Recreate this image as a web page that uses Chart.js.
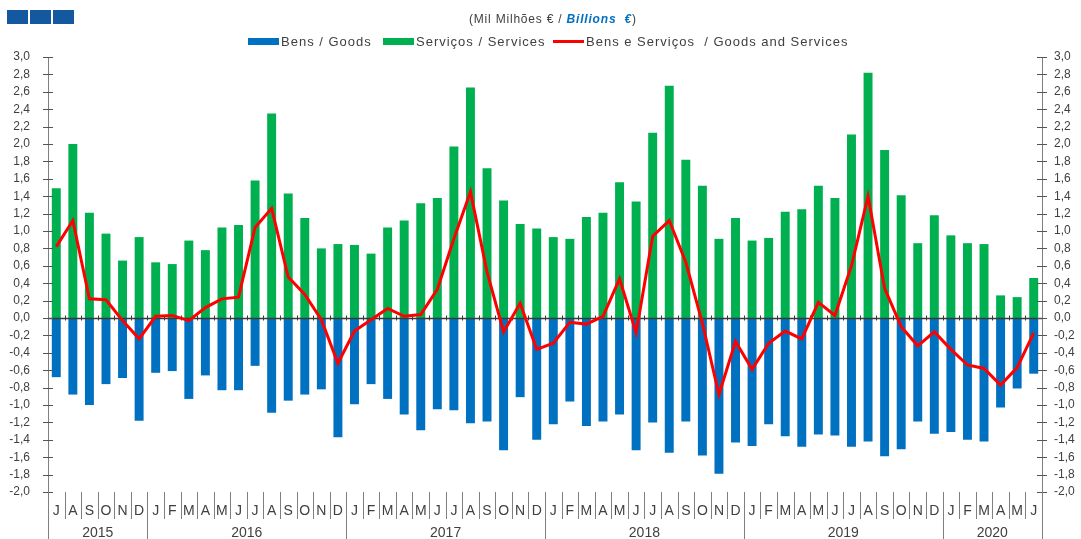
<!DOCTYPE html>
<html>
<head>
<meta charset="utf-8">
<script src="https://cdn.jsdelivr.net/npm/chart.js@4.4.1/dist/chart.umd.min.js"></script>
<style>
    html, body { margin: 0; padding: 0; background: #fff; }
    #wrap { position: relative; width: 1081px; height: 539px; }
</style>
</head>
<body>
<div id="wrap"><canvas id="balanceChart" width="1081" height="539"></canvas></div>
<script>
/* ================= DATA ================= */
const months = [
    "J", "A", "S", "O", "N", "D",
    "J", "F", "M", "A", "M", "J", "J", "A", "S", "O", "N", "D",
    "J", "F", "M", "A", "M", "J", "J", "A", "S", "O", "N", "D",
    "J", "F", "M", "A", "M", "J", "J", "A", "S", "O", "N", "D",
    "J", "F", "M", "A", "M", "J", "J", "A", "S", "O", "N", "D",
    "J", "F", "M", "A", "M", "J"
];
const years = ["2015", "2016", "2017", "2018", "2019", "2020"];
const monthsPerYear = [6, 12, 12, 12, 12, 6];

const goods = [
    -0.68, -0.88, -1.00, -0.76, -0.69, -1.18,
    -0.63, -0.61, -0.93, -0.66, -0.83, -0.83, -0.55, -1.09, -0.95, -0.88, -0.82, -1.37,
    -0.99, -0.76, -0.93, -1.11, -1.29, -1.05, -1.06, -1.21, -1.19, -1.52, -0.91, -1.40,
    -1.22, -0.96, -1.24, -1.19, -1.11, -1.52, -1.20, -1.55, -1.19, -1.58, -1.79, -1.43,
    -1.47, -1.22, -1.36, -1.48, -1.34, -1.35, -1.48, -1.42, -1.59, -1.51, -1.19, -1.33,
    -1.31, -1.40, -1.42, -1.03, -0.81, -0.64
];
const services = [
    1.49, 2.00, 1.21, 0.97, 0.66, 0.93,
    0.64, 0.62, 0.89, 0.78, 1.04, 1.07, 1.58, 2.35, 1.43, 1.15, 0.80, 0.85,
    0.84, 0.74, 1.04, 1.12, 1.32, 1.38, 1.97, 2.65, 1.72, 1.35, 1.08, 1.03,
    0.93, 0.91, 1.16, 1.21, 1.56, 1.34, 2.13, 2.67, 1.82, 1.52, 0.91, 1.15,
    0.89, 0.92, 1.22, 1.25, 1.52, 1.38, 2.11, 2.82, 1.93, 1.41, 0.86, 1.18,
    0.95, 0.86, 0.85, 0.26, 0.24, 0.46
];
const goodsAndServices = [
    0.82, 1.12, 0.22, 0.21, -0.03, -0.24,
    0.02, 0.03, -0.03, 0.12, 0.22, 0.24, 1.04, 1.26, 0.47, 0.27, -0.02, -0.52,
    -0.15, -0.02, 0.11, 0.02, 0.04, 0.33, 0.91, 1.45, 0.53, -0.16, 0.17, -0.36,
    -0.29, -0.05, -0.07, 0.02, 0.45, -0.17, 0.94, 1.12, 0.64, -0.06, -0.88, -0.27,
    -0.59, -0.29, -0.15, -0.24, 0.18, 0.03, 0.60, 1.40, 0.34, -0.10, -0.32, -0.16,
    -0.36, -0.54, -0.58, -0.77, -0.57, -0.17
];

const seriesNames = ["Bens / Goods", "Serviços / Services", "Bens e Serviços  / Goods and Services"];
const titleParts = ["(Mil Milhões € / ", "Billions  €", ")"];

/* ================= STYLE ================= */
const FONT = "'Liberation Sans', Arial, sans-serif";
const TEXT = "#404040";
const AXIS = "#7f7f7f";
const BLUE = "#0070C0";
const GREEN = "#00B050";
const RED = "#FF0000";

Chart.defaults.font.family = FONT;
Chart.defaults.color = TEXT;

const fmt = v => Number(v).toFixed(1).replace(".", ",").replace("-0,0", "0,0");

/* ================= DECORATION PLUGIN ================= */
const decor = {
    id: "decor",
    beforeDatasetDraw(chart, args) {
        if (args.meta.type !== "line") return;
        const { ctx, chartArea: a, scales: { y } } = chart;
        const y0 = Math.round(y.getPixelForValue(0)) + 0.5;
        const w = (a.right - a.left) / months.length;
        ctx.save();
        ctx.strokeStyle = "#3a3a3a";
        ctx.lineWidth = 1.5;
        ctx.beginPath();
        ctx.moveTo(a.left, y0);
        ctx.lineTo(a.right, y0);
        ctx.stroke();
        ctx.lineWidth = 1;
        ctx.beginPath();
        for (let i = 1; i < months.length; i++) {
            const x = Math.round(a.left + i * w) + 0.5;
            ctx.moveTo(x, y0 - 3);
            ctx.lineTo(x, y0 + 2);
        }
        ctx.stroke();
        ctx.restore();
    },
    afterDraw(chart) {
        const { ctx, chartArea: a, scales: { y } } = chart;
        const w = (a.right - a.left) / months.length;
        ctx.save();

        // y tick marks crossing both axes
        ctx.strokeStyle = "#555";
        ctx.lineWidth = 1;
        ctx.beginPath();
        y.ticks.forEach(t => {
            const py = Math.round(y.getPixelForValue(t.value)) + 0.5;
            ctx.moveTo(a.left - 5, py); ctx.lineTo(a.left + 5, py);
            ctx.moveTo(a.right - 5, py); ctx.lineTo(a.right + 5, py);
        });
        ctx.stroke();

        // month and year separators
        const yearEdges = [0];
        monthsPerYear.forEach(n => yearEdges.push(yearEdges[yearEdges.length - 1] + n));
        ctx.strokeStyle = AXIS;
        ctx.beginPath();
        for (let i = 0; i <= months.length; i++) {
            const x = Math.round(a.left + i * w) + 0.5;
            const long = yearEdges.includes(i);
            ctx.moveTo(x, a.bottom);
            ctx.lineTo(x, long ? 539 : a.bottom + 27);
        }
        ctx.stroke();

        // year labels
        ctx.fillStyle = TEXT;
        ctx.font = "14px " + FONT;
        ctx.textAlign = "center";
        ctx.textBaseline = "middle";
        years.forEach((yr, k) => {
            const cx = a.left + (yearEdges[k] + yearEdges[k + 1]) / 2 * w;
            ctx.fillText(yr, cx, 533);
        });

        // logo
        ctx.fillStyle = "#1459A0";
        [7, 30, 53].forEach(x => ctx.fillRect(x, 10, 21, 14));

        // title
        ctx.textAlign = "left";
        ctx.letterSpacing = "0.8px";
        let tx = 469;
        ctx.font = "12px " + FONT;
        ctx.fillStyle = TEXT;
        ctx.fillText(titleParts[0], tx, 20);
        tx += ctx.measureText(titleParts[0]).width;
        ctx.font = "italic bold 12px " + FONT;
        ctx.fillStyle = BLUE;
        ctx.fillText(titleParts[1], tx, 20);
        tx += ctx.measureText(titleParts[1]).width;
        ctx.font = "12px " + FONT;
        ctx.fillStyle = TEXT;
        ctx.fillText(titleParts[2], tx, 20);

        // legend
        ctx.letterSpacing = "1px";
        ctx.font = "13px " + FONT;
        const items = [
            { x: 248, color: BLUE, kind: "box", label: seriesNames[0] },
            { x: 383, color: GREEN, kind: "box", label: seriesNames[1] },
            { x: 553, color: RED, kind: "line", label: seriesNames[2] }
        ];
        items.forEach(it => {
            ctx.fillStyle = it.color;
            if (it.kind === "box") ctx.fillRect(it.x, 38, 31, 7);
            else ctx.fillRect(it.x, 40, 31, 3);
            ctx.fillStyle = TEXT;
            ctx.fillText(it.label, it.x + 33, 42);
        });
        ctx.restore();
    }
};

/* ================= CHART ================= */
const yAxis = (position, width, pad) => ({
    position,
    min: -2,
    max: 3,
    ticks: {
        stepSize: 0.2,
        autoSkip: false,
        maxTicksLimit: 40,
        padding: pad,
        font: { size: 12 },
        color: TEXT,
        callback: v => fmt(v)
    },
    grid: { display: false },
    border: { display: true, color: AXIS },
    afterFit: s => { s.width = width; }
});

new Chart(document.getElementById("balanceChart"), {
    type: "bar",
    data: {
        labels: months,
        datasets: [
            {
                type: "line",
                label: seriesNames[2],
                data: goodsAndServices,
                borderColor: RED,
                borderWidth: 3,
                pointRadius: 0,
                tension: 0,
                order: 0
            },
            {
                label: seriesNames[0],
                data: goods,
                backgroundColor: BLUE,
                grouped: false,
                categoryPercentage: 1,
                barPercentage: 0.54,
                order: 1
            },
            {
                label: seriesNames[1],
                data: services,
                backgroundColor: GREEN,
                grouped: false,
                categoryPercentage: 1,
                barPercentage: 0.54,
                order: 1
            }
        ]
    },
    options: {
        responsive: false,
        animation: false,
        layout: { padding: { top: 57, left: 0, right: 0, bottom: 0 } },
        plugins: { legend: { display: false }, tooltip: { enabled: false } },
        scales: {
            x: {
                ticks: { autoSkip: false, maxRotation: 0, minRotation: 0, padding: 3, font: { size: 14 }, color: TEXT },
                grid: { display: false },
                border: { display: false },
                afterFit: s => { s.height = 47; }
            },
            y: yAxis("left", 48, 10),
            y2: yAxis("right", 39, 4)
        }
    },
    plugins: [decor]
});
</script>
</body>
</html>
